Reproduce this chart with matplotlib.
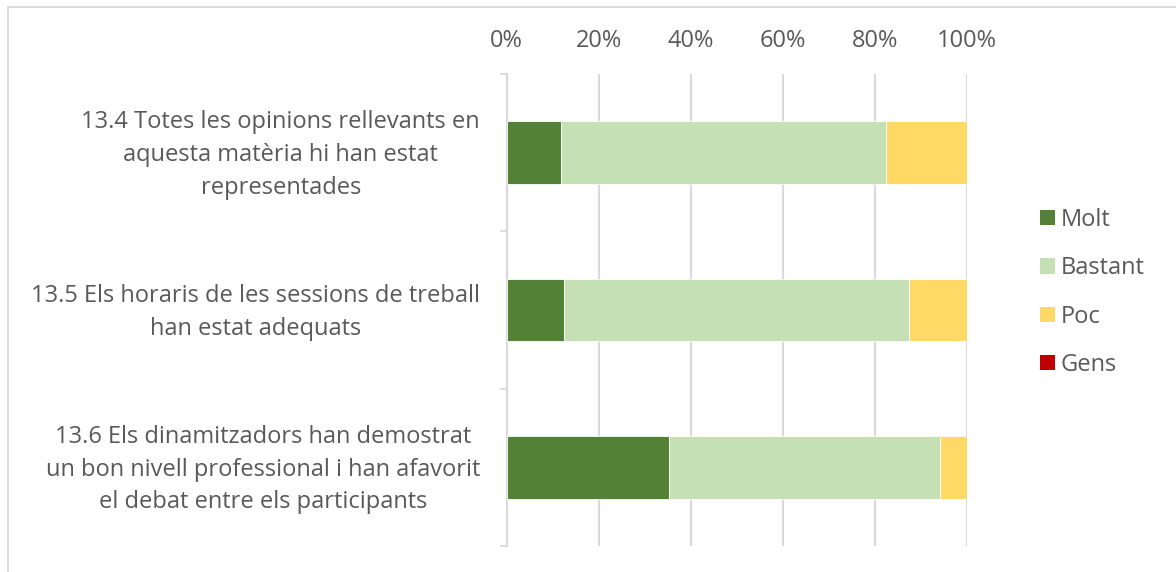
import matplotlib
matplotlib.use("Agg")
import matplotlib.pyplot as plt
from matplotlib.patches import Rectangle, Patch
from matplotlib.transforms import ScaledTranslation
import numpy as np

categories = [
    "13.4 Totes les opinions rellevants en\naquesta matèria hi han estat\nrepresentades",
    "13.5 Els horaris de les sessions de treball\nhan estat adequats",
    "13.6 Els dinamitzadors han demostrat\nun bon nivell professional i han afavorit\nel debat entre els participants",
]
series_names = ["Molt", "Bastant", "Poc", "Gens"]
molt = [2 / 17, 1 / 8, 6 / 17]
bastant = [12 / 17, 6 / 8, 10 / 17]
poc = [3 / 17, 1 / 8, 1 / 17]
gens = [0.0, 0.0, 0.0]
x_ticks = [0, 0.2, 0.4, 0.6, 0.8, 1.0]
x_tick_labels = ["0%", "20%", "40%", "60%", "80%", "100%"]

colors = ["#538135", "#c5e0b4", "#ffd966", "#c00000"]
text_color = "#595959"
grid_color = "#d9d9d9"
fs = 17

plt.rcParams["font.family"] = ["Open Sans", "DejaVu Sans"]

fig = plt.figure(figsize=(11.76, 5.72), dpi=100)
W, H = 1176, 572
ax = fig.add_axes([506.5 / W, 1 - 546 / H, (967 - 506.5) / W, (546 - 74) / H])

# chart frame
fig.patches.append(Rectangle((8 / W, -0.1), 1.2, 1 - 7 / H + 0.1, transform=fig.transFigure,
                             fill=False, edgecolor=grid_color, linewidth=1.3, zorder=0))

y = np.arange(len(categories))
left = np.zeros(len(categories))
for name, vals, c in zip(series_names, [molt, bastant, poc, gens], colors):
    vals = np.array(vals)
    ax.barh(y, vals, left=left, height=0.4, color=c, edgecolor="white",
            linewidth=0.6, label=name, zorder=3)
    left += vals

ax.set_xlim(0, 1)
ax.set_ylim(2.5, -0.5)
ax.xaxis.tick_top()
ax.set_xticks(x_ticks)
ax.set_xticklabels(x_tick_labels, fontsize=fs, color=text_color)
ax.tick_params(axis="x", length=0, pad=15)
ax.grid(axis="x", color=grid_color, linewidth=1.5, zorder=0)

ax.set_yticks(y)
ax.set_yticklabels(categories, fontsize=fs, color=text_color, ha="right",
                   multialignment="center", linespacing=1.48)
ax.tick_params(axis="y", length=0, pad=19)
# nudge the category labels up slightly so they sit on the bar centres
shift = ScaledTranslation(0, 5 / 100, fig.dpi_scale_trans)
for lbl in ax.get_yticklabels():
    lbl.set_transform(lbl.get_transform() + shift)
ax.set_yticks([-0.5, 0.5, 1.5, 2.5], minor=True)
ax.tick_params(axis="y", which="minor", length=5, color=grid_color, width=1.3)

for s in ["top", "right", "bottom"]:
    ax.spines[s].set_visible(False)
ax.spines["left"].set_color(grid_color)
ax.spines["left"].set_linewidth(1.5)

handles = [Patch(facecolor=c, edgecolor="none") for c in colors]
fig.legend(handles, series_names, loc="center left", bbox_to_anchor=(1019 / W, 1 - 292.5 / H),
           frameon=False, fontsize=fs, labelcolor=text_color, handlelength=0.62,
           handleheight=0.62, handletextpad=0.25, labelspacing=1.03)

fig.savefig("out.png", dpi=100, facecolor="white")
